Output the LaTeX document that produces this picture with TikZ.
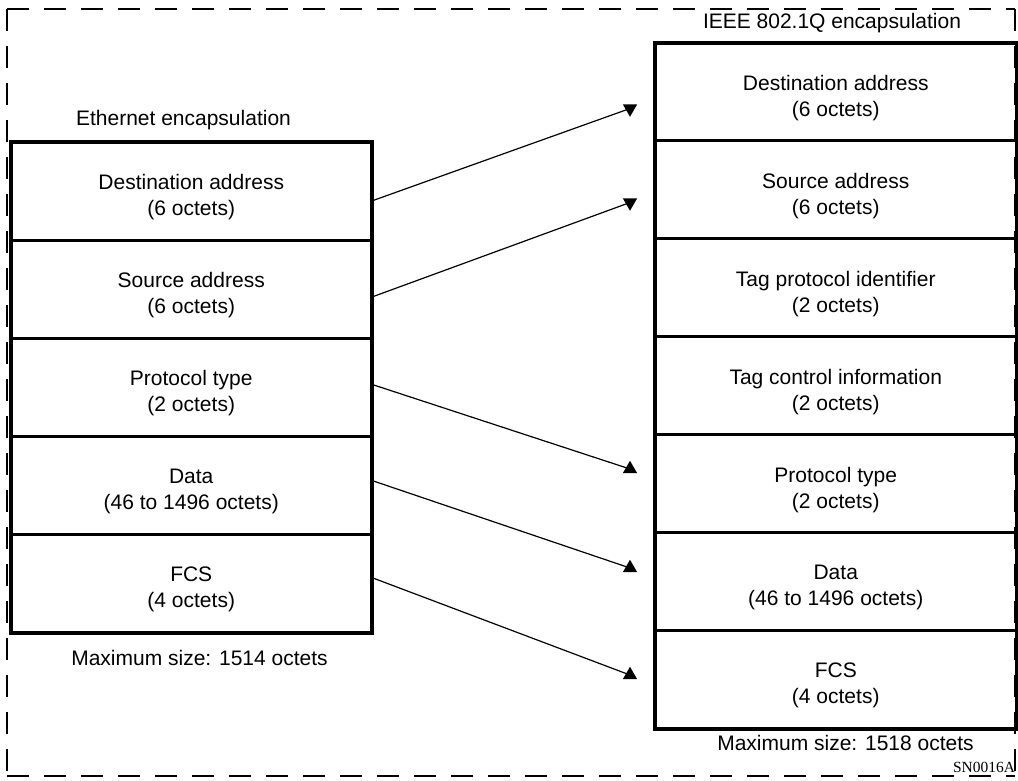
\documentclass[tikz,border=0pt]{standalone}
\usepackage{fontspec}
\setmainfont{Liberation Sans}
\newfontfamily\serifface{Liberation Serif}
\usetikzlibrary{shapes.geometric}
\begin{document}
\begin{tikzpicture}[x=1pt,y=-1pt,
  lbl/.style={inner sep=0pt, align=center, font=\fontsize{21}{26}\selectfont},
  lfield/.style={draw, line width=1.5pt, minimum width=359pt, minimum height=96.6pt,
    anchor=north west, inner sep=0pt},
  rfield/.style={lfield, minimum width=360pt, minimum height=96.43pt},
  frame/.style={line width=4pt},
  conn/.style={line width=1.2pt},
  uptri/.style={regular polygon, regular polygon sides=3, fill=black, draw=none,
    inner sep=0pt, minimum size=16.5pt},
  dntri/.style={uptri, shape border rotate=180},
  border/.style={line width=1.8pt, dash pattern=on 22pt off 15pt}]
\useasboundingbox (0,0) rectangle (1018,780);
% dashed outer border
\draw[border] (7,9) -- (1015,9);
\draw[border] (7,9) -- (7,776);
\draw[border] (7,776) -- (1015,776);
\draw[border] (1015,9) -- (1015,776);
% titles
\node[lbl] (lt) at (183.5,120) {Ethernet encapsulation};
\node[lbl] (rt) at (832,23) {IEEE 802.1Q encapsulation};
% left frame
\node[lfield] (l1) at (11,142) {};
\node[lfield] (l2) at (l1.south west) {};
\node[lfield] (l3) at (l2.south west) {};
\node[lfield] (l4) at (l3.south west) {};
\node[lfield] (l5) at (l4.south west) {};
\node[lbl] (l1t) at ([yshift=-6pt]l1.center) {Destination address\\(6 octets)};
\node[lbl] (l2t) at ([yshift=-6pt]l2.center) {Source address\\(6 octets)};
\node[lbl] (l3t) at ([yshift=-6pt]l3.center) {Protocol type\\(2 octets)};
\node[lbl] (l4t) at ([yshift=-6pt]l4.center) {Data\\(46 to 1496 octets)};
\node[lbl] (l5t) at ([yshift=-6pt]l5.center) {FCS\\(4 octets)};
% right frame
\node[rfield] (r1) at (655,43) {};
\node[rfield] (r2) at (r1.south west) {};
\node[rfield] (r3) at (r2.south west) {};
\node[rfield] (r4) at (r3.south west) {};
\node[rfield] (r5) at (r4.south west) {};
\node[rfield] (r6) at (r5.south west) {};
\node[rfield] (r7) at (r6.south west) {};
\node[lbl] (r1t) at ([yshift=-6pt]r1.center) {Destination address\\(6 octets)};
\node[lbl] (r2t) at ([yshift=-6pt]r2.center) {Source address\\(6 octets)};
\node[lbl] (r3t) at ([yshift=-6pt]r3.center) {Tag protocol identifier\\(2 octets)};
\node[lbl] (r4t) at ([yshift=-6pt]r4.center) {Tag control information\\(2 octets)};
\node[lbl] (r5t) at ([yshift=-6pt]r5.center) {Protocol type\\(2 octets)};
\node[lbl] (r6t) at ([yshift=-6pt]r6.center) {Data\\(46 to 1496 octets)};
\node[lbl] (r7t) at ([yshift=-6pt]r7.center) {FCS\\(4 octets)};
% arrow heads
\coordinate (a1) at (630,108.5);
\coordinate (a2) at (630,202.5);
\coordinate (a3) at (630,469);
\coordinate (a4) at (630,568);
\coordinate (a5) at (630,675);
% connectors
\draw[conn] ([yshift=-10pt]l1.east) -- (a1);
\draw[conn] ([yshift=-8pt]l2.east) -- (a2);
\draw[conn] ([yshift=3pt]l3.east) -- (a3);
\draw[conn] ([yshift=5pt]l4.east) -- (a4);
\draw[conn] ([yshift=6pt]l5.east) -- (a5);
\node[dntri] (h1) at (a1) {};
\node[dntri] (h2) at (a2) {};
\node[uptri] (h3) at (a3) {};
\node[uptri] (h4) at (a4) {};
\node[uptri] (h5) at (a5) {};
% thick frames
\draw[frame] (l1.north west) rectangle (l5.south east);
\draw[frame] (r1.north west) rectangle (r7.south east);
% captions
\node[lbl] (lm) at (199.5,658) {Maximum size: 1514 octets};
\node[lbl] (rm) at (845.5,743) {Maximum size: 1518 octets};
\node[inner sep=0pt, font=\serifface\fontsize{15.5}{18}\selectfont] (sn) at (984,767) {SN0016A};
\end{tikzpicture}
\end{document}
